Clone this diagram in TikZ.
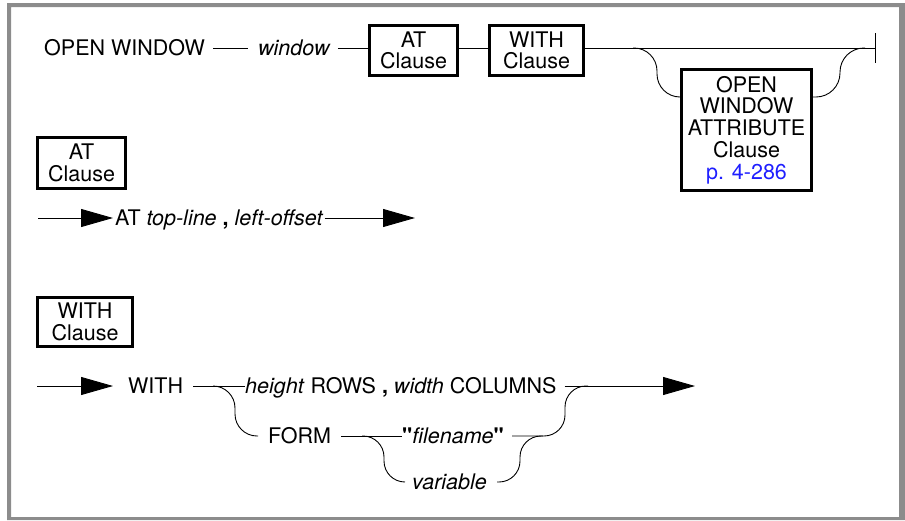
\documentclass[tikz,border=0pt]{standalone}
\usepackage{fontspec}
\setmainfont{TeX Gyre Heros}
\usetikzlibrary{arrows.meta}
\definecolor{framegray}{HTML}{8C8C8C}
\definecolor{linkblue}{HTML}{1F1FFF}
\begin{document}
\begin{tikzpicture}[x=1pt,y=-1pt,
  every node/.style={font=\fontsize{21.5}{21.7}\selectfont},
  lbl/.style={inner sep=0pt, text height=15pt, text depth=0pt, anchor=west},
  cbox/.style={draw, line width=3pt, align=center, inner sep=0pt},
  wire/.style={line width=0.9pt},
  arr/.style={wire, -{Triangle[length=32pt,width=18pt]}},
]
\useasboundingbox (0,0) rectangle (905,520);
\fill[framegray, even odd rule] (7,3) rectangle (905,520) (11,7) rectangle (899,517);

% ---- main diagram
\node[lbl] (ow) at (44,48) {OPEN WINDOW};
\node[lbl] (win) at (258,48) {\itshape window};
\node[cbox, minimum width=88pt, minimum height=50pt] (at) at (413.5,50.5) {AT\\Clause};
\node[cbox, minimum width=94pt, minimum height=50pt] (with) at (536.5,50.5) {WITH\\Clause};
\node[cbox, minimum width=130pt, minimum height=121pt] (owa) at (746.5,130)
  {OPEN\\WINDOW\\ATTRIBUTE\\Clause\\\textcolor{linkblue}{p. 4-286}};
\coordinate (endbar) at (875,48);
\coordinate (b1) at (633,48);

\draw[wire] ([xshift=8pt]ow.east) -- ([xshift=-10pt]win.west);
\draw[wire] ([xshift=8pt]win.east) -- (win.east -| at.west);
\draw[wire] (at.east |- win.east) -- (with.west |- win.east);
\draw[wire] (with.east |- win.east) -- (endbar);
\draw[wire] ([yshift=15pt]endbar) -- ([yshift=-15pt]endbar);
\draw[wire, rounded corners=23pt] (b1) -- (657,48) -- (657,97) -- (owa.west |- 0,97);
\draw[wire, rounded corners=24pt] (owa.east |- 0,97) -- (840,97) -- (840,48) -- (865,48);

% ---- AT clause
\node[cbox, minimum width=88pt, minimum height=51pt] (atc) at (81.5,163) {AT\\Clause};
\coordinate (a0) at (38,218);
\coordinate (a1) at (415,218);
\node[lbl] (atx) at (115,218) {AT \textit{top-line} \textbf{,} \textit{left-offset}};
\draw[arr] (a0) -- ([xshift=-2pt]atx.west);
\draw[arr] ([xshift=1pt]atx.east) -- (a1);

% ---- WITH clause
\node[cbox, minimum width=95pt, minimum height=49pt] (wc) at (85,322) {WITH\\Clause};
\coordinate (w0) at (37,386);
\coordinate (w1) at (695,386);
\coordinate (j1) at (213,386);
\coordinate (j2) at (362,436);
\node[lbl] (wkw) at (128,386) {WITH};
\node[lbl] (hr) at (245,386) {\textit{height} ROWS \textbf{,} \textit{width} COLUMNS};
\node[lbl] (form) at (268,436) {FORM};
\node[lbl] (fn) at (402,436) {\textbf{\textquotedbl}\textit{filename}\textbf{\textquotedbl}};
\node[lbl] (var) at (412,482) {\textit{variable}};

\draw[arr] (w0) -- ([xshift=-15pt]wkw.west);
\draw[wire] ([xshift=10pt]wkw.east) -- (hr.west);
\draw[arr] ([xshift=8pt]hr.east) -- (w1);
\draw[wire, rounded corners=22pt] (j1) -- (235,386) -- (235,436) -- ([xshift=-10pt]form.west);
\draw[wire] ([xshift=10pt]form.east) -- (fn.west);
\draw[wire, rounded corners=21pt] (j2) -- (384,436) -- (384,482) -- ([xshift=-7pt]var.west);
\draw[wire, rounded corners=21pt] ([xshift=8pt]fn.east) -- (565,436) -- (565,386) -- (588,386);
\draw[wire, rounded corners=21pt] ([xshift=10pt]var.east) -- (520,482) -- (520,436) -- (543,436);
\end{tikzpicture}
\end{document}
